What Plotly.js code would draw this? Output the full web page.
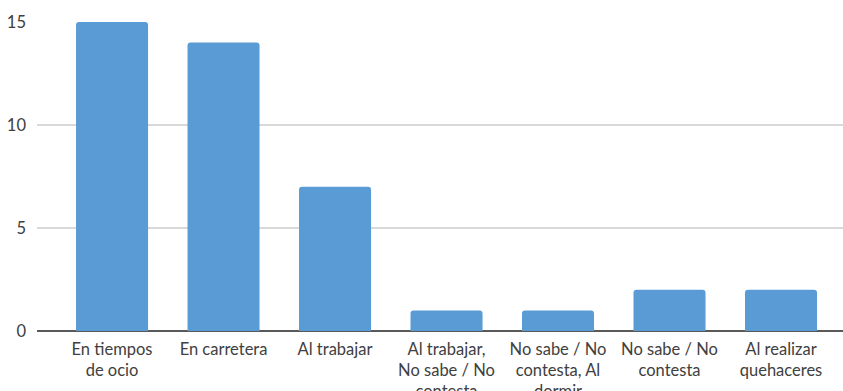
<!DOCTYPE html>
<html><head><meta charset="utf-8">
<script src="https://cdn.plot.ly/plotly-3.0.1.min.js"></script>
<style>html,body{margin:0;padding:0;background:#fff}#c{width:843px;height:391px}</style>
</head><body><div id="c"></div>
<script>
const categories = ["En tiempos<br>de ocio","En carretera","Al trabajar","Al trabajar,<br>No sabe / No<br>contesta","No sabe / No<br>contesta, Al<br>dormir","No sabe / No<br>contesta","Al realizar<br>quehaceres"];
const values = [15, 14, 7, 1, 1, 2, 2];
const yTicks = [0, 5, 10, 15];
const xIdx = categories.map((c,i)=>i);

Plotly.newPlot('c', [{
  type:'bar', x:xIdx, y:values, width:0.646,
  marker:{color:'#5B9BD5', cornerradius:3},
  hoverinfo:'skip'
}], {
  width:843, height:391,
  margin:{l:37, r:0, t:22, b:59.5},
  paper_bgcolor:'#fff', plot_bgcolor:'#fff',
  showlegend:false,
  font:{family:'Lato, "Open Sans", sans-serif', size:16.5, color:'#404040'},
  xaxis:{range:[-0.673, 6.556], tickvals:xIdx, ticktext:categories, showgrid:false, zeroline:false,
         showline:false, ticks:'', tickangle:0, ticklabelstandoff:6, tickfont:{size:16.5, color:'#404040'}, fixedrange:true, automargin:false},
  yaxis:{range:[0,15], tickvals:yTicks, showgrid:true, gridcolor:'#d9d9d9', gridwidth:1.3,
         zeroline:true, zerolinecolor:'#595959', zerolinewidth:1.5, showline:false, ticks:'',
         ticklabelstandoff:10, tickfont:{size:16.5, color:'#404040'}, automargin:false}
}, {staticPlot:true});
</script></body></html>
